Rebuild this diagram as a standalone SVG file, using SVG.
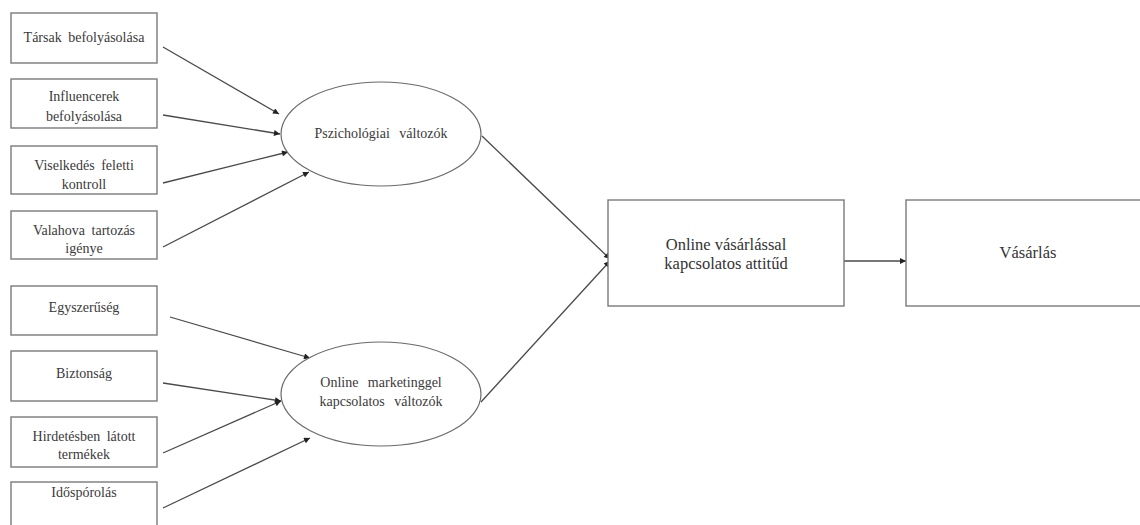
<svg xmlns="http://www.w3.org/2000/svg" width="1140" height="525" viewBox="0 0 1140 525">
<style>
.box{fill:#fff;stroke:#7a7a7a;stroke-width:1.4}
.ell{fill:#fff;stroke:#6a6a6a;stroke-width:1.2}
.t{font-family:"Liberation Serif","Times New Roman",serif;fill:#3a3a3a;text-anchor:middle;font-size:14px;word-spacing:3px}
.te{font-family:"Liberation Serif","Times New Roman",serif;fill:#3a3a3a;text-anchor:middle;font-size:14px;word-spacing:6px}
.tb{font-family:"Liberation Serif","Times New Roman",serif;fill:#333;text-anchor:middle;font-size:16.5px}
.c{stroke:#4a4a4a;stroke-width:1.3;fill:none;marker-end:url(#ah)}
</style>
<defs>
<marker id="ah" viewBox="0 0 10 10" refX="10" refY="5" markerWidth="7" markerHeight="6" markerUnits="userSpaceOnUse" orient="auto">
<path d="M0,0 L10,5 L0,10 z" fill="#222"/>
</marker>
</defs>
<rect width="1140" height="525" fill="#fff"/>
<g id="connectors">
<line class="c" x1="163" y1="47" x2="279" y2="114"/>
<line class="c" x1="163" y1="115" x2="280" y2="134"/>
<line class="c" x1="163" y1="183" x2="288" y2="152"/>
<line class="c" x1="163" y1="247" x2="309" y2="172"/>
<line class="c" x1="170" y1="317" x2="310" y2="358"/>
<line class="c" x1="163" y1="383" x2="281" y2="401"/>
<line class="c" x1="163" y1="453" x2="281" y2="401"/>
<line class="c" x1="163" y1="508" x2="310" y2="438"/>
<line class="c" x1="482" y1="136" x2="610" y2="259"/>
<line class="c" x1="481" y1="402" x2="610" y2="261"/>
<line class="c" x1="844" y1="261" x2="906" y2="261"/>
</g>
<g id="n1"><rect class="box" x="11" y="13" width="146" height="50"/><text class="t" x="84" y="42">Társak befolyásolása</text></g>
<g id="n2"><rect class="box" x="11" y="79" width="146" height="49"/><text class="t" x="84" y="101">Influencerek</text><text class="t" x="84" y="121">befolyásolása</text></g>
<g id="n3"><rect class="box" x="11" y="146" width="146" height="48"/><text class="t" x="84" y="170">Viselkedés feletti</text><text class="t" x="84" y="189">kontroll</text></g>
<g id="n4"><rect class="box" x="11" y="211" width="146" height="48"/><text class="t" x="84" y="235">Valahova tartozás</text><text class="t" x="84" y="253">igénye</text></g>
<g id="n5"><rect class="box" x="11" y="286" width="146" height="49"/><text class="t" x="84" y="312">Egyszerűség</text></g>
<g id="n6"><rect class="box" x="11" y="351" width="146" height="50"/><text class="t" x="84" y="378">Biztonság</text></g>
<g id="n7"><rect class="box" x="11" y="417" width="146" height="50"/><text class="t" x="84" y="441">Hirdetésben látott</text><text class="t" x="84" y="459">termékek</text></g>
<g id="n8"><rect class="box" x="11" y="482" width="146" height="60"/><text class="t" x="84" y="497">Időspórolás</text></g>
<g id="e1"><ellipse class="ell" cx="381" cy="134" rx="100" ry="52"/><text class="te" x="381" y="138">Pszichológiai változók</text></g>
<g id="e2"><ellipse class="ell" cx="381" cy="394" rx="100" ry="52"/><text class="te" x="381" y="387">Online marketinggel</text><text class="te" x="381" y="406">kapcsolatos változók</text></g>
<g id="att"><rect class="box" x="608" y="200" width="236" height="106"/><text class="tb" x="726" y="250">Online vásárlással</text><text class="tb" x="726" y="269">kapcsolatos attitűd</text></g>
<g id="vas"><rect class="box" x="906" y="200" width="244" height="106"/><text class="tb" x="1028" y="258">Vásárlás</text></g>
</svg>
